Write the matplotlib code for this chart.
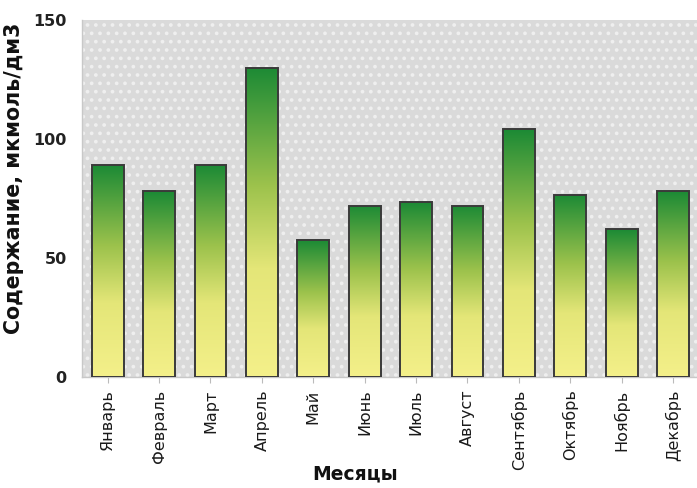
import numpy as np
import matplotlib.pyplot as plt
from matplotlib.colors import LinearSegmentedColormap
import matplotlib as mpl

plt.rcParams['font.family'] = ['DejaVu Sans']
mpl.rcParams['hatch.linewidth'] = 1.5

months = ['Январь', 'Февраль', 'Март', 'Апрель', 'Май', 'Июнь', 'Июль',
          'Август', 'Сентябрь', 'Октябрь', 'Ноябрь', 'Декабрь']
values = [89, 78, 89, 130, 57.5, 72, 73.5, 72, 104, 76.5, 62, 78]
yticks = [0, 50, 100, 150]

fig = plt.figure(figsize=(6.97, 4.88), dpi=100)
ax = fig.add_axes([0.1176, 0.2275, 0.885, 0.7315])

ax.set_xlim(-0.5, len(months) - 0.5)
ax.set_ylim(0, 150)

# dotted grey plot area
ax.set_facecolor('#dadada')
bg = plt.Rectangle((0, 0), 1, 1, transform=ax.transAxes, facecolor='#dadada',
                   edgecolor='#efefef', hatch='..', linewidth=0, zorder=0.5)
ax.add_patch(bg)

cmap = LinearSegmentedColormap.from_list(
    'yg', [(0.0, '#f4f08a'), (0.35, '#e4e678'), (0.62, '#9cc24c'), (1.0, '#1c8a35')])
grad = np.linspace(0, 1, 256).reshape(-1, 1)

x = np.arange(len(months))
width = 0.62
bars = ax.bar(x, values, width=width, facecolor='none', edgecolor='#3a3a3a',
              linewidth=1.4, zorder=3)
for b in bars:
    x0, y0, w, h = b.get_x(), b.get_y(), b.get_width(), b.get_height()
    im = ax.imshow(grad, cmap=cmap, aspect='auto', origin='lower',
                   extent=(x0, x0 + w, y0, y0 + h), zorder=2)
    im.set_clip_path(b)

ax.set_xticks(x)
ax.set_xticklabels(months, rotation=90, fontsize=11.5, color='#1a1a1a')
ax.set_yticks(yticks)
ax.set_yticklabels([str(t) for t in yticks], fontsize=11.5, fontweight='bold', color='#222222')
ax.tick_params(axis='y', length=0, pad=11)
ax.tick_params(axis='x', length=4, color='#bbbbbb', pad=5)

for s in ['top', 'right']:
    ax.spines[s].set_visible(False)
for s in ['left', 'bottom']:
    ax.spines[s].set_color('#c8c8c8')
    ax.spines[s].set_linewidth(1.0)

ax.set_xlabel('Месяцы', fontsize=13.5, fontweight='bold', color='#111111')
ax.xaxis.set_label_coords(0.442, -0.244)
ax.set_ylabel('Содержание, мкмоль/дм3', fontsize=14.8, fontweight='bold', color='#111111')
ax.yaxis.set_label_coords(-0.094, 0.557)

fig.savefig('out.png', dpi=100, facecolor='white')
